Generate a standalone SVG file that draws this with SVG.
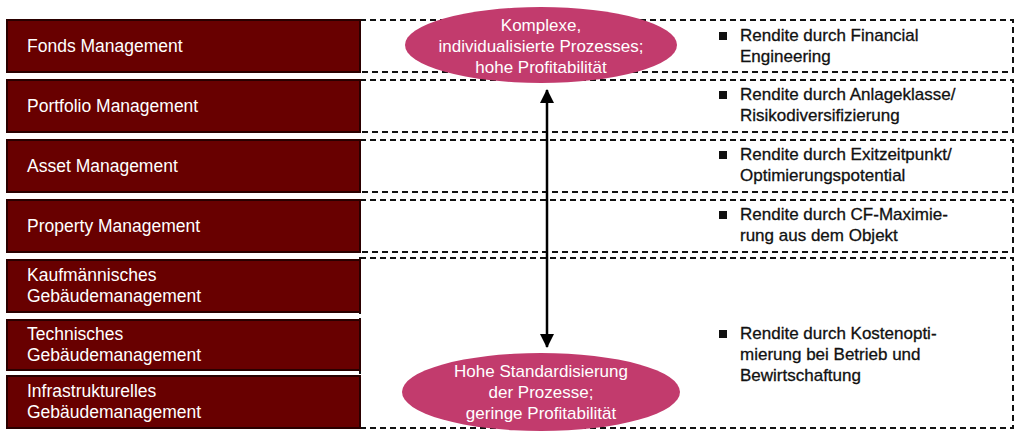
<svg xmlns="http://www.w3.org/2000/svg" width="1024" height="437" viewBox="0 0 1024 437">
<style>
.box{fill:#680000;stroke:#2a0000;stroke-width:2}
.lt{font-family:"Liberation Sans",Arial,sans-serif;font-size:17.5px;fill:#fff}
.row{fill:#fff;stroke:#111;stroke-width:2;stroke-dasharray:6,4}
.el{fill:#c23b6d}
.et{font-family:"Liberation Sans",Arial,sans-serif;font-size:17px;fill:#fff;text-anchor:middle}
.bt{font-family:"Liberation Sans",Arial,sans-serif;font-size:17px;fill:#111;stroke:#111;stroke-width:0.3}
.bl{fill:#111}
</style>
<defs><marker id="ah" markerWidth="14" markerHeight="16" refX="13" refY="7" orient="auto-start-reverse" markerUnits="userSpaceOnUse"><path d="M0,0 L14,7 L0,14 z" fill="#000"/></marker></defs>
<g id="rows">
<rect class="row" x="360" y="20" width="653" height="52"/>
<rect class="row" x="360" y="80" width="653" height="52"/>
<rect class="row" x="360" y="140" width="653" height="52"/>
<rect class="row" x="360" y="200" width="653" height="52"/>
<rect class="row" x="360" y="258" width="653" height="170"/>
</g>
<g id="n1"><rect class="box" x="7" y="20" width="353" height="52"/><text class="lt" x="27" y="52">Fonds Management</text></g>
<g id="n2"><rect class="box" x="7" y="80" width="353" height="52"/><text class="lt" x="27" y="112">Portfolio Management</text></g>
<g id="n3"><rect class="box" x="7" y="140" width="353" height="52"/><text class="lt" x="27" y="172">Asset Management</text></g>
<g id="n4"><rect class="box" x="7" y="200" width="353" height="52"/><text class="lt" x="27" y="232">Property Management</text></g>
<g id="n5"><rect class="box" x="7" y="260" width="353" height="52"/><text class="lt" x="27" y="281">Kaufmännisches</text><text class="lt" x="27" y="302">Gebäudemanagement</text></g>
<g id="n6"><rect class="box" x="7" y="320" width="353" height="50"/><text class="lt" x="27" y="340">Technisches</text><text class="lt" x="27" y="361">Gebäudemanagement</text></g>
<g id="n7"><rect class="box" x="7" y="376" width="353" height="52"/><text class="lt" x="27" y="397">Infrastrukturelles</text><text class="lt" x="27" y="418">Gebäudemanagement</text></g>
<g id="connectors"><line x1="547" y1="90" x2="547" y2="347" stroke="#000" stroke-width="2.5" marker-start="url(#ah)" marker-end="url(#ah)"/></g>
<g id="e1"><ellipse class="el" cx="541" cy="45" rx="136" ry="38"/><text class="et" x="541" y="31">Komplexe,</text><text class="et" x="541" y="52">individualisierte Prozesses;</text><text class="et" x="541" y="73">hohe Profitabilität</text></g>
<g id="e2"><ellipse class="el" cx="541" cy="392" rx="139" ry="39"/><text class="et" x="541" y="377">Hohe Standardisierung</text><text class="et" x="541" y="398">der Prozesse;</text><text class="et" x="541" y="419">geringe Profitabilität</text></g>
<g id="b1"><rect class="bl" x="719" y="32" width="8" height="8"/><text class="bt" x="740" y="41">Rendite durch Financial</text><text class="bt" x="740" y="62">Engineering</text></g>
<g id="b2"><rect class="bl" x="719" y="91" width="8" height="8"/><text class="bt" x="740" y="100">Rendite durch Anlageklasse/</text><text class="bt" x="740" y="121">Risikodiversifizierung</text></g>
<g id="b3"><rect class="bl" x="719" y="151" width="8" height="8"/><text class="bt" x="740" y="160">Rendite durch Exitzeitpunkt/</text><text class="bt" x="740" y="181">Optimierungspotential</text></g>
<g id="b4"><rect class="bl" x="719" y="211" width="8" height="8"/><text class="bt" x="740" y="220">Rendite durch CF-Maximie-</text><text class="bt" x="740" y="241">rung aus dem Objekt</text></g>
<g id="b5"><rect class="bl" x="719" y="330" width="8" height="8"/><text class="bt" x="740" y="339">Rendite durch Kostenopti-</text><text class="bt" x="740" y="360">mierung bei Betrieb und</text><text class="bt" x="740" y="381">Bewirtschaftung</text></g>
</svg>
